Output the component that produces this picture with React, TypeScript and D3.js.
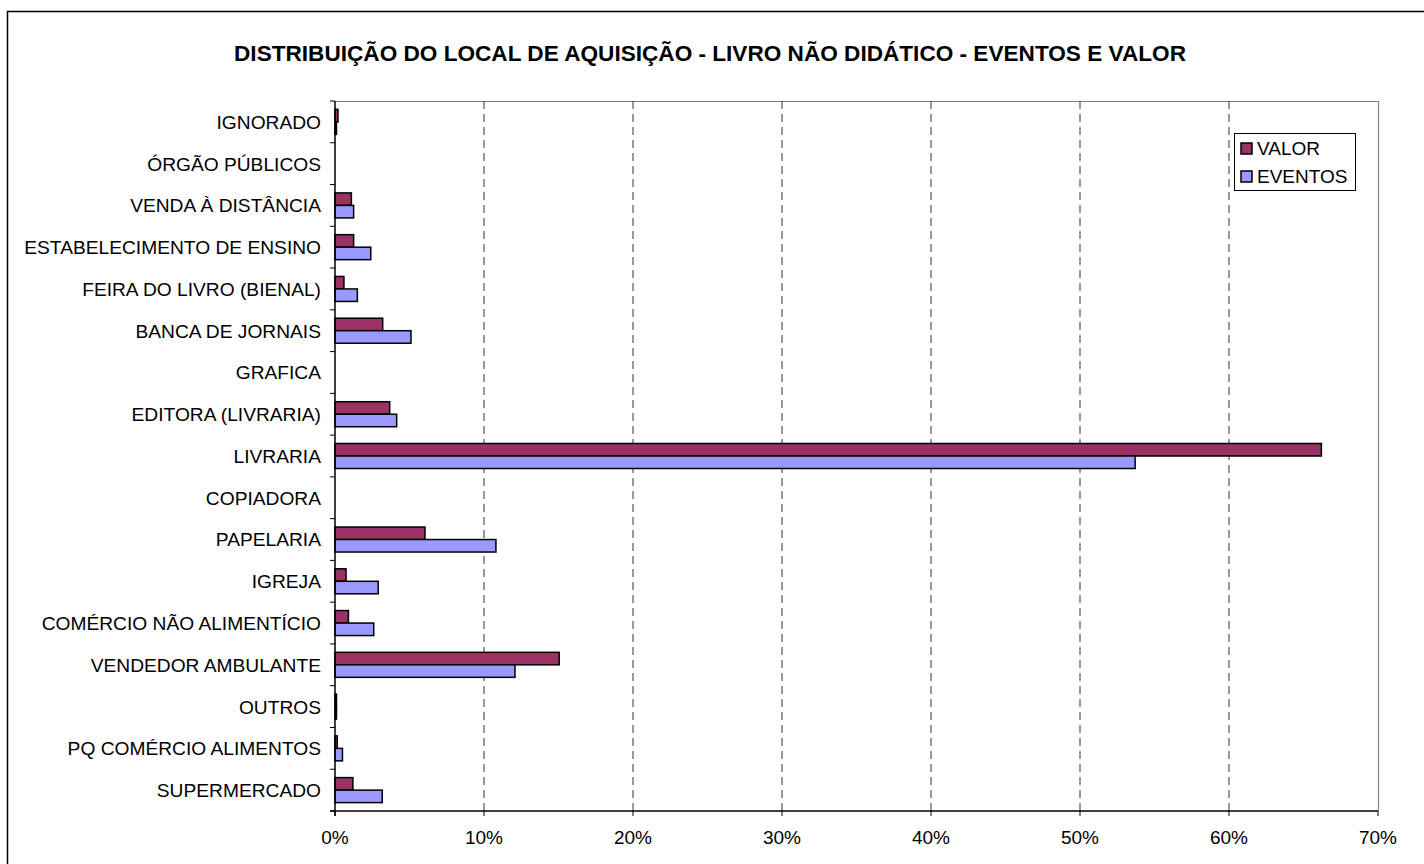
import React from 'react';
import * as d3 from 'd3';

const categories = [
  'IGNORADO', 'ÓRGÃO PÚBLICOS', 'VENDA À DISTÂNCIA', 'ESTABELECIMENTO DE ENSINO',
  'FEIRA DO LIVRO (BIENAL)', 'BANCA DE JORNAIS', 'GRAFICA', 'EDITORA (LIVRARIA)',
  'LIVRARIA', 'COPIADORA', 'PAPELARIA', 'IGREJA', 'COMÉRCIO NÃO ALIMENTÍCIO',
  'VENDEDOR AMBULANTE', 'OUTROS', 'PQ COMÉRCIO ALIMENTOS', 'SUPERMERCADO',
];
const valor = [0.2, 0, 1.1, 1.25, 0.6, 3.2, 0, 3.67, 66.2, 0, 6.04, 0.74, 0.9, 15.05, 0.1, 0.15, 1.2];
const eventos = [0.1, 0, 1.25, 2.4, 1.5, 5.1, 0, 4.14, 53.7, 0, 10.8, 2.9, 2.6, 12.08, 0.1, 0.5, 3.17];
const xTicks = [0, 10, 20, 30, 40, 50, 60, 70];

const W = 1424, H = 864;
const left = 335, right = 1378, top = 101, bottom = 811;
const FONT = '"Liberation Sans", Arial, sans-serif';
const VALOR_COLOR = '#993366';
const EVENTOS_COLOR = '#9999FF';

export default function App() {
  const x = d3.scaleLinear().domain([0, 70]).range([left, right]);
  const y = d3.scaleBand<string>().domain(categories).range([top, bottom]);
  const barH = 12.5;
  const step = y.step();

  return (
    <div style={{ position: 'absolute', left: 0, top: 0 }}>
      <svg width={W} height={H} style={{ display: 'block', fontFamily: FONT }}>
        <rect x={0} y={0} width={W} height={H} fill="#fff" />
        {/* outer chart border */}
        <rect x={7.5} y={11.5} width={W + 10} height={H + 10} fill="none" stroke="#000" strokeWidth={1.5} />

        <text x={710} y={61} textAnchor="middle" fontSize={22.6} fontWeight="bold" fill="#000">
          DISTRIBUIÇÃO DO LOCAL DE AQUISIÇÃO - LIVRO NÃO DIDÁTICO - EVENTOS E VALOR
        </text>

        {/* plot frame */}
        <path d={`M${left},${top + 0.5}H${right + 0.5}V${bottom}`} fill="none" stroke="#808080" strokeWidth={1.2} />

        {/* gridlines */}
        {xTicks.slice(1, -1).map(t => (
          <line key={t} x1={x(t)} x2={x(t)} y1={top} y2={bottom} stroke="#333" strokeWidth={1} strokeDasharray="8,5" />
        ))}

        {/* bars */}
        {categories.map((c, i) => {
          const cy = (y(c) ?? 0) + step / 2;
          return (
            <g key={c}>
              {valor[i] > 0 && (
                <rect x={x(0)} y={cy - barH} width={x(valor[i]) - x(0)} height={barH}
                  fill={VALOR_COLOR} stroke="#000" strokeWidth={1.5} />
              )}
              {eventos[i] > 0 && (
                <rect x={x(0)} y={cy} width={x(eventos[i]) - x(0)} height={barH}
                  fill={EVENTOS_COLOR} stroke="#000" strokeWidth={1.5} />
              )}
            </g>
          );
        })}

        {/* y axis */}
        <line x1={left} x2={left} y1={top} y2={bottom + 5} stroke="#000" strokeWidth={1.5} />
        {d3.range(categories.length + 1).map(i => {
          const yy = top + i * step;
          return <line key={i} x1={left - 5} x2={left} y1={yy} y2={yy} stroke="#000" strokeWidth={1} />;
        })}
        {categories.map(c => (
          <text key={c} x={321} y={(y(c) ?? 0) + step / 2} dy="0.36em" textAnchor="end" fontSize={19.2} fill="#000">
            {c}
          </text>
        ))}

        {/* x axis */}
        <line x1={left - 5} x2={right} y1={bottom} y2={bottom} stroke="#000" strokeWidth={1.5} />
        {xTicks.map(t => (
          <g key={t}>
            <line x1={x(t)} x2={x(t)} y1={bottom} y2={bottom + 5} stroke="#000" strokeWidth={1} />
            <text x={x(t)} y={844} textAnchor="middle" fontSize={19} fill="#000">{t}%</text>
          </g>
        ))}

        {/* legend */}
        <rect x={1234.5} y={133.5} width={121} height={57} fill="#fff" stroke="#000" strokeWidth={1} />
        <rect x={1241} y={143} width={11} height={11} fill={VALOR_COLOR} stroke="#000" strokeWidth={1.5} />
        <text x={1257} y={148.5} dy="0.36em" fontSize={19} fill="#000">VALOR</text>
        <rect x={1241} y={171} width={11} height={11} fill={EVENTOS_COLOR} stroke="#000" strokeWidth={1.5} />
        <text x={1257} y={176.5} dy="0.36em" fontSize={19} fill="#000">EVENTOS</text>
      </svg>
    </div>
  );
}
